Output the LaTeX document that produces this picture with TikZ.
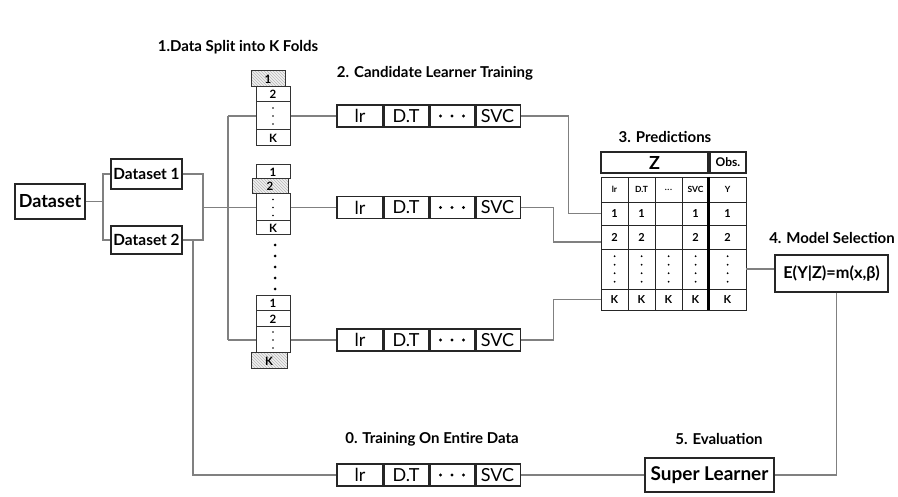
\documentclass[tikz,border=0pt]{standalone}
\usepackage{fontspec}
\setmainfont{Lato}
\usetikzlibrary{patterns}
\newcommand{\tdots}{.\kern0.6pt.\kern0.6pt.}
\begin{document}
\begin{tikzpicture}[x=1pt,y=-1pt,
  box/.style={draw=black!85,line width=1.2pt,fill=white,inner sep=0pt,align=center},
  conn/.style={draw=black!50,line width=1.1pt},
  title/.style={font=\bfseries\fontsize{15}{17}\selectfont,inner sep=0pt},
  fold/.style={draw=black!80,line width=1pt,fill=white,inner sep=0pt,minimum width=34pt,font=\bfseries\fontsize{11.5}{12}\selectfont},
  hatch/.style={fold,preaction={fill=gray!12},pattern=north west lines,pattern color=gray!55},
  lcell/.style={draw=black!85,line width=1.2pt,inner sep=0pt,minimum width=46pt,minimum height=22pt,font=\fontsize{18}{19}\selectfont},
  tcell/.style={draw=black!85,line width=0.9pt,inner sep=0pt,font=\bfseries\fontsize{11}{12}\selectfont},
  thead/.style={tcell,font=\bfseries\fontsize{8.5}{9}\selectfont}
]
\fill[white] (0,0) rectangle (898,497);
\useasboundingbox (0,0) rectangle (898,497);

% titles
\node[title] (t1) at (238,47) {1.Data Split into K Folds};
\node[title] (t2) at (435,73) {2. Candidate Learner Training};
\node[title] (t3) at (665,137) {3. Predictions};
\node[title] (t4) at (832,238) {4. Model Selection};
\node[title] (t0) at (432,439) {0. Training On Entire Data};
\node[title] (t5) at (719,439) {5. Evaluation};

% datasets
\node[box,minimum width=70pt,minimum height=35pt,font=\bfseries\fontsize{18}{20}\selectfont] (ds) at (50,201.5) {Dataset};
\node[box,minimum width=71pt,minimum height=30pt,font=\bfseries\fontsize{15.4}{17}\selectfont] (d1) at (146.5,174) {Dataset 1};
\node[box,minimum width=71pt,minimum height=28pt,font=\bfseries\fontsize{15.4}{17}\selectfont] (d2) at (146.5,240) {Dataset 2};

% fold stacks
\node[fold,minimum height=15pt] (s1b) at (273,94.5) {2};
\node[fold,minimum height=28pt] (s1d) at (273,116) {};
\node[fold,minimum height=16pt] (s1k) at (273,138) {K};
\node[hatch,minimum height=16pt] (s1a) at (268,79) {1};

\node[fold,minimum height=14pt] (s2a) at (273,172) {1};
\node[fold,minimum height=27pt] (s2d) at (273,207.5) {};
\node[fold,minimum height=14pt] (s2k) at (273,228) {K};
\node[hatch,minimum height=15pt,minimum width=36pt] (s2b) at (270,186.5) {2};

\node[fold,minimum height=15pt] (s3a) at (273,303.5) {1};
\node[fold,minimum height=16pt] (s3b) at (273,319) {2};
\node[fold,minimum height=26pt] (s3d) at (273,340) {};
\node[hatch,minimum height=16pt,minimum width=36pt] (s3k) at (269,361) {K};

\foreach \s in {s1d,s2d,s3d}
  \foreach \k in {-1,0,1} \fill[black] ([yshift=\k*8pt]\s.center) circle (0.9pt);
\foreach \yy in {245,256,267,278,289} \fill[black] (275,\yy) circle (1.5pt);

% learner rows
\foreach \r/\yy in {1/116,2/207.5,3/340,0/475} {
  \node[lcell] (r\r lr) at (360,\yy) {lr};
  \node[lcell] (r\r dt) at (406,\yy) {D.T};
  \node[lcell] (r\r dd) at (452,\yy) {};
  \node[lcell] (r\r svc) at (497.5,\yy) {SVC};
  \foreach \k in {-1,0,1} \fill[black] ([xshift=\k*11.5pt]r\r dd.center) circle (1.7pt);
  \foreach \n in {r\r lr,r\r dt,r\r dd} \draw[black!85,line width=2.2pt] (\n.north east) -- (\n.south east);
}

% table
\node[box,minimum width=107pt,minimum height=21pt,font=\bfseries\fontsize{18}{19}\selectfont] (zh) at (654.5,162.5) {Z};
\node[box,minimum width=36pt,minimum height=21pt,font=\bfseries\fontsize{12}{13}\selectfont] (oh) at (728,162.5) {Obs.};
\foreach \c/\xa/\xb/\tx in {1/601/628/lr,2/628/655/D.T,3/655/682/{\tdots},4/682/709/SVC,5/709/746/Y}
  \node[thead,minimum width={\xb-\xa},minimum height=25pt] (th\c) at ({(\xa+\xb)/2},189.5) {\tx};
\foreach \c/\xa/\xb/\tx in {1/601/628/1,2/628/655/1,3/655/682/{},4/682/709/1,5/709/746/1}
  \node[tcell,minimum width={\xb-\xa},minimum height=23pt] (ta\c) at ({(\xa+\xb)/2},213.5) {\tx};
\foreach \c/\xa/\xb/\tx in {1/601/628/2,2/628/655/2,3/655/682/{},4/682/709/2,5/709/746/2}
  \node[tcell,minimum width={\xb-\xa},minimum height=24pt] (tb\c) at ({(\xa+\xb)/2},237) {\tx};
\foreach \c/\xa/\xb in {1/601/628,2/628/655,3/655/682,4/682/709,5/709/746} {
  \node[tcell,minimum width={\xb-\xa},minimum height=40pt] (td\c) at ({(\xa+\xb)/2},269) {};
  \foreach \k in {-1.5,-0.5,0.5,1.5} \fill[black] ([yshift=\k*8.5pt]td\c.center) circle (1pt);
}
\foreach \c/\xa/\xb in {1/601/628,2/628/655,3/655/682,4/682/709,5/709/746}
  \node[tcell,minimum width={\xb-\xa},minimum height=21pt] (tk\c) at ({(\xa+\xb)/2},299.5) {K};
\draw[black,line width=3.5pt] (th5.north west) -- (tk5.south west);

% model selection and super learner
\node[box,minimum width=113pt,minimum height=37pt,font=\bfseries\fontsize{16.3}{18}\selectfont] (ms) at (831.5,273.5) {E(Y|Z)=m(x,β)};
\node[box,minimum width=129pt,minimum height=34pt,font=\bfseries\fontsize{19}{20}\selectfont] (sl) at (709.5,475) {Super Learner};

% connectors
\coordinate (j1) at (103,201.5);
\coordinate (m) at (203,207.5);
\coordinate (v1) at (228,116);
\coordinate (v3) at (228,340);
\coordinate (b) at (193,240);
\draw[conn] (ds.east) -- (j1);
\draw[conn] (j1) |- (d1.west);
\draw[conn] (j1) |- (d2.west);
\draw[conn] (d1.east) -| (m);
\draw[conn] (d2.east) -| (m);
\draw[conn] (m) -- (s2d.west);
\draw[conn] (v1) -- (v3);
\draw[conn] (v1) -- (s1d.west);
\draw[conn] (v3) -- (s3d.west);
\draw[conn] (s1d.east) -- (r1lr.west);
\draw[conn] (s2d.east) -- (r2lr.west);
\draw[conn] (s3d.east) -- (r3lr.west);
\draw[conn] (b) |- (r0lr.west);
\draw[conn] (r1svc.east) -- ++(47,0) |- (ta1.west);
\draw[conn] (r2svc.east) -- ++(32,0) |- ([yshift=-5pt]tb1.west);
\draw[conn] (r3svc.east) -- ++(32,0) |- (tk1.west);
\draw[conn] (td5.east) -- (td5.east -| ms.west);
\draw[conn] ([xshift=5pt]ms.south) |- (sl.east);
\draw[conn] (r0svc.east) -- (sl.west);
\end{tikzpicture}
\end{document}
